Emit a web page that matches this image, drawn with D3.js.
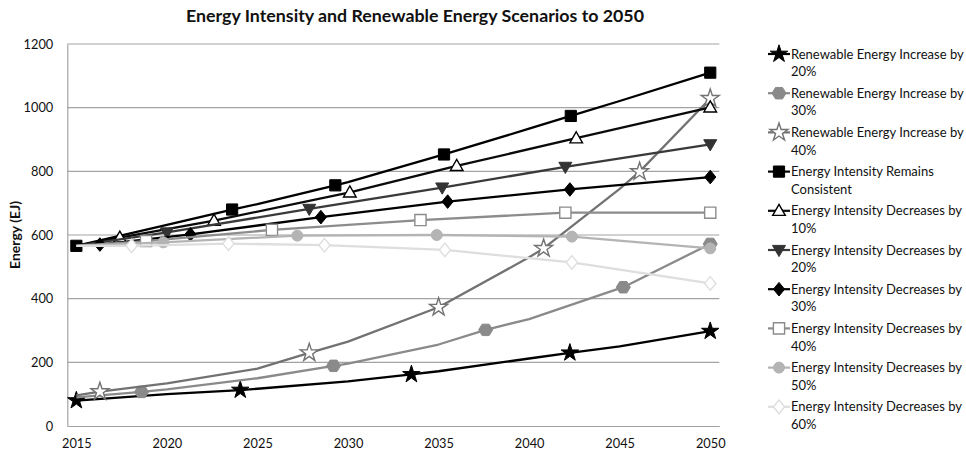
<!DOCTYPE html>
<html>
<head>
<meta charset="utf-8">
<script src="https://cdn.jsdelivr.net/npm/d3@7"></script>
<style>
  body { margin: 0; background: #fff; }
  svg { display: block; font-family: Lato, "Open Sans", sans-serif; }
</style>
</head>
<body>
<svg id="chart" width="966" height="453"></svg>
<script>
// ---- data -------------------------------------------------------------
const chartTitle = "Energy Intensity and Renewable Energy Scenarios to 2050";
const yTitle = "Energy (EJ)";
const xTicks = [2015, 2020, 2025, 2030, 2035, 2040, 2045, 2050];
const yTicks = [0, 200, 400, 600, 800, 1000, 1200];

const seriesNames = [
  "Renewable Energy Increase by 20%",
  "Renewable Energy Increase by 30%",
  "Renewable Energy Increase by 40%",
  "Energy Intensity Remains Consistent",
  "Energy Intensity Decreases by 10%",
  "Energy Intensity Decreases by 20%",
  "Energy Intensity Decreases by 30%",
  "Energy Intensity Decreases by 40%",
  "Energy Intensity Decreases by 50%",
  "Energy Intensity Decreases by 60%"
];

// [year, EJ] vertices of each scenario path
const renew20 = [[2015, 80], [2020, 100], [2024.05, 113], [2025, 117], [2030, 140], [2033.5, 162], [2035, 172], [2040, 212], [2042.25, 230], [2045, 250], [2050, 298]];
const renew30 = [[2015, 90], [2018.6, 107], [2020, 115], [2025, 150], [2029.2, 189], [2030, 196], [2035, 256], [2037.6, 302], [2040, 336], [2045.2, 436], [2050, 572]];
const renew40 = [[2015, 96], [2016.3, 108], [2020, 134], [2025, 180], [2027.86, 230], [2030, 265], [2035, 373], [2040, 530], [2040.8, 558], [2045, 745], [2046.1, 799], [2050, 1029]];
const intensity0 = [[2015, 566], [2020, 632], [2023.6, 680], [2025, 697], [2029.3, 756], [2030, 766], [2035.3, 853], [2040, 934], [2042.3, 974], [2045, 1021], [2050, 1110]];
const intensity10 = [[2015, 566], [2017.4, 592], [2022.6, 645], [2030.1, 734], [2036, 817], [2042.6, 904], [2050, 1001]];
const intensity20 = [[2015, 566], [2020, 608], [2027.86, 682], [2035.2, 749], [2042, 814], [2050, 885]];
const intensity30 = [[2015, 566], [2016.3, 570], [2021.3, 602], [2028.5, 656], [2035.5, 705], [2042.25, 743], [2050, 782]];
const intensity40 = [[2015, 566], [2018.85, 581], [2025.8, 616], [2034, 647], [2042, 670], [2050, 670]];
const intensity50 = [[2015, 566], [2019.8, 577], [2027.2, 598], [2034.9, 600], [2042.36, 595], [2050, 558]];
const intensity60 = [[2015, 566], [2018.05, 566], [2023.4, 573], [2028.7, 568], [2035.35, 553], [2042.36, 514], [2050, 448]];

// years at which each scenario carries a marker
const renew20Marks = [2015, 2024.05, 2033.5, 2042.25, 2050];
const renew30Marks = [2018.6, 2029.2, 2037.6, 2045.2, 2050];
const renew40Marks = [2016.3, 2027.86, 2035, 2040.8, 2046.1, 2050];
const intensity0Marks = [2015, 2023.6, 2029.3, 2035.3, 2042.3, 2050];
const intensity10Marks = [2017.4, 2022.6, 2030.1, 2036, 2042.6, 2050];
const intensity20Marks = [2020, 2027.86, 2035.2, 2042, 2050];
const intensity30Marks = [2016.3, 2021.3, 2028.5, 2035.5, 2042.25, 2050];
const intensity40Marks = [2018.85, 2025.8, 2034, 2042, 2050];
const intensity50Marks = [2019.8, 2027.2, 2034.9, 2042.36, 2050];
const intensity60Marks = [2018.05, 2023.4, 2028.7, 2035.35, 2042.36, 2050];

const seriesPoints = [renew20, renew30, renew40, intensity0, intensity10, intensity20, intensity30, intensity40, intensity50, intensity60];
const seriesMarks = [renew20Marks, renew30Marks, renew40Marks, intensity0Marks, intensity10Marks, intensity20Marks, intensity30Marks, intensity40Marks, intensity50Marks, intensity60Marks];

// ---- styles -----------------------------------------------------------
const styles = [
  { line: "#000000", shape: "star",     fill: "#000000", edge: "#000000" },
  { line: "#8a8a8a", shape: "hexagon",  fill: "#8a8a8a", edge: "#8a8a8a" },
  { line: "#727272", shape: "star",     fill: "#ffffff", edge: "#727272" },
  { line: "#000000", shape: "square",   fill: "#000000", edge: "#000000" },
  { line: "#0a0a0a", shape: "triangle", fill: "#ffffff", edge: "#000000" },
  { line: "#3a3a3a", shape: "triDown",  fill: "#333333", edge: "#333333" },
  { line: "#000000", shape: "diamond",  fill: "#000000", edge: "#000000" },
  { line: "#8c8c8c", shape: "square",   fill: "#ffffff", edge: "#8c8c8c" },
  { line: "#b4b4b4", shape: "circle",   fill: "#b4b4b4", edge: "#b4b4b4" },
  { line: "#dedede", shape: "diamond",  fill: "#ffffff", edge: "#dedede" }
];

const margin = { left: 67.3, right: 719.3, top: 44, bottom: 426 };
const svg = d3.select("#chart");

const x = d3.scaleLinear().domain([2014.5, 2050.5]).range([margin.left, margin.right]);
const y = d3.scaleLinear().domain([0, 1200]).range([margin.bottom, margin.top]);

function polygon(pts) {
  return "M" + pts.map(p => p[0].toFixed(2) + "," + p[1].toFixed(2)).join("L") + "Z";
}

function markerPath(shape, filled) {
  switch (shape) {
    case "star":
      return d3.symbol(d3.symbolStar, filled ? 95 : 100)();
    case "hexagon":
      return polygon(d3.range(6).map(k => [7 * Math.cos(k * Math.PI / 3), 6.6 * Math.sin(k * Math.PI / 3)]));
    case "square":
      return polygon([[-5.6, -5.6], [5.6, -5.6], [5.6, 5.6], [-5.6, 5.6]]);
    case "triangle":
      return polygon([[0, -6.5], [6.3, 4.6], [-6.3, 4.6]]);
    case "triDown":
      return polygon([[-6.5, -4.6], [6.5, -4.6], [0, 6.6]]);
    case "diamond":
      return polygon([[0, -6.8], [5.6, 0], [0, 6.8], [-5.6, 0]]);
    case "circle":
      return d3.symbol(d3.symbolCircle, 95)();
  }
}

// ---- grid and axes ----------------------------------------------------
svg.append("g")
  .selectAll("line")
  .data(yTicks.filter(v => v > 0))
  .join("line")
  .attr("x1", margin.left).attr("x2", margin.right)
  .attr("y1", d => y(d)).attr("y2", d => y(d))
  .attr("stroke", "#a3a3a3").attr("stroke-width", 1.2);

const yAxis = svg.append("g")
  .attr("transform", `translate(${margin.left},0)`)
  .call(d3.axisLeft(y).tickValues(yTicks).tickFormat(d3.format("d")).tickSize(0).tickPadding(14));
yAxis.select(".domain").attr("stroke", "#a3a3a3").attr("stroke-width", 1.2);
yAxis.selectAll("text").attr("font-family", "Lato").attr("font-size", 12.8).attr("fill", "#111");

const xAxis = svg.append("g")
  .attr("transform", `translate(0,${margin.bottom})`)
  .call(d3.axisBottom(x).tickValues(xTicks).tickFormat(d3.format("d")).tickSize(0).tickPadding(13));
xAxis.select(".domain").attr("stroke", "#a3a3a3").attr("stroke-width", 1.2);
xAxis.selectAll("text").attr("font-family", "Lato").attr("font-size", 12.8).attr("fill", "#111");

svg.append("text")
  .attr("transform", `translate(15,${(margin.top + margin.bottom) / 2}) rotate(-90)`)
  .attr("text-anchor", "middle")
  .attr("dy", "0.35em")
  .attr("font-weight", "bold")
  .attr("font-size", 14)
  .attr("fill", "#111")
  .text(yTitle);

svg.append("text")
  .attr("x", 415).attr("y", 16)
  .attr("dy", "0.35em")
  .attr("text-anchor", "middle")
  .attr("font-weight", "bold")
  .attr("font-size", 17.8)
  .attr("fill", "#111")
  .text(chartTitle);

// ---- series -----------------------------------------------------------
const line = d3.line().x(d => x(d[0])).y(d => y(d[1]));

seriesNames.forEach((name, i) => {
  const st = styles[i];
  const g = svg.append("g").attr("class", "series");
  g.append("path")
    .attr("d", line(seriesPoints[i]))
    .attr("fill", "none")
    .attr("stroke", st.line)
    .attr("stroke-width", 2.3)
    .attr("stroke-linejoin", "round");
  const marked = seriesPoints[i].filter(p => seriesMarks[i].includes(p[0]));
  g.selectAll("path.mark")
    .data(marked)
    .join("path")
    .attr("class", "mark")
    .attr("transform", d => `translate(${x(d[0])},${y(d[1])})`)
    .attr("d", markerPath(st.shape, st.fill !== "#ffffff"))
    .attr("fill", st.fill)
    .attr("stroke", st.edge)
    .attr("stroke-width", st.fill === "#ffffff" ? 1.4 : 1);
});

// ---- legend -----------------------------------------------------------
const legend = svg.append("g").attr("class", "legend");
const legendWrap = 180;
seriesNames.forEach((name, i) => {
  const st = styles[i];
  const cy = 54 + 39.2 * i;
  const item = legend.append("g").attr("transform", `translate(0,${cy})`);
  item.append("line")
    .attr("x1", 768).attr("x2", 790).attr("y1", 0).attr("y2", 0)
    .attr("stroke", st.line).attr("stroke-width", 2.2);
  item.append("path")
    .attr("transform", "translate(779,0)")
    .attr("d", markerPath(st.shape, st.fill !== "#ffffff"))
    .attr("fill", st.fill)
    .attr("stroke", st.edge)
    .attr("stroke-width", st.fill === "#ffffff" ? 1.4 : 1);
  const text = item.append("text")
    .attr("x", 791).attr("y", 0)
    .attr("font-size", 13)
    .attr("fill", "#111");
  // wrap the label word by word
  const words = name.split(" ");
  let tspan = text.append("tspan").attr("x", 791).attr("dy", "0.35em");
  let current = [];
  words.forEach(w => {
    current.push(w);
    tspan.text(current.join(" "));
    if (tspan.node().getComputedTextLength() > legendWrap && current.length > 1) {
      current.pop();
      tspan.text(current.join(" "));
      current = [w];
      tspan = text.append("tspan").attr("x", 791).attr("dy", "1.36em").text(w);
    }
  });
});
</script>
</body>
</html>
